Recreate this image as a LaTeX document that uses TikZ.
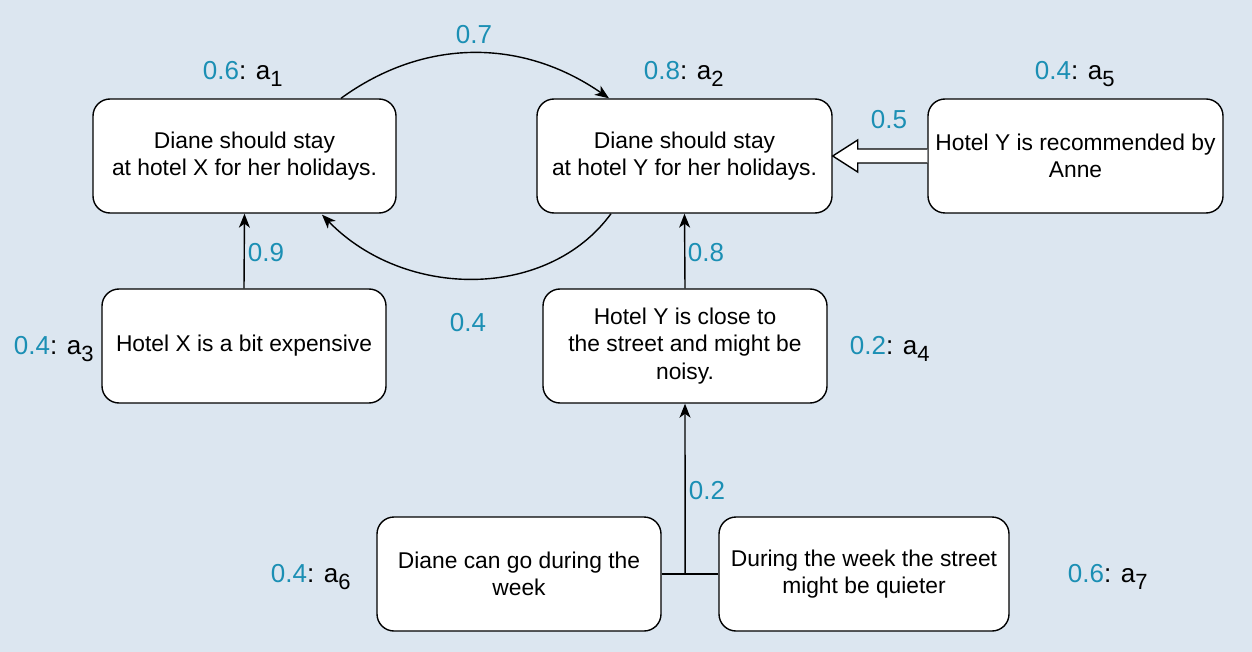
\documentclass[tikz,border=0pt]{standalone}
\usepackage{fontspec}
\setmainfont{Liberation Sans}
\usetikzlibrary{arrows.meta,calc}
\definecolor{bgc}{RGB}{220,230,240}
\definecolor{lblue}{RGB}{27,143,180}
\tikzset{
  box/.style={draw=black, line width=1.4pt, fill=white, rounded corners=17pt,
    minimum height=114pt, align=center, inner sep=0pt,
    font=\fontsize{22.8}{27.5}\selectfont},
  conn/.style={line width=1.4pt, -{Stealth[length=14pt,width=11pt,inset=4pt]}},
  wlab/.style={text=lblue, font=\fontsize{26}{30}\selectfont},
  alab/.style={font=\fontsize{26}{30}\selectfont},
}
\newcommand{\lab}[2]{{\color{lblue}#1}: a\textsubscript{\fontsize{22}{22}\selectfont #2}}
\begin{document}
\begin{tikzpicture}[x=1pt,y=-1pt]
\useasboundingbox[fill=bgc] (0,0) rectangle (1252,652);
% boxes
\node[box, minimum width=303pt] (b1) at (244.5,156) {Diane should stay\\at hotel X for her holidays.};
\node[box, minimum width=295pt] (b2) at (684.5,156) {Diane should stay\\at hotel Y for her holidays.};
\node[box, minimum width=295pt] (b5) at (1075.5,156) {Hotel Y is recommended by\\Anne};
\node[box, minimum width=284pt] (b3) at (244,346) {Hotel X is a bit expensive};
\node[box, minimum width=284pt] (b4) at (685,346) {Hotel Y is close to\\the street and might be\\noisy.};
\node[box, minimum width=284pt] (b6) at (519,574) {Diane can go during the\\week};
\node[box, minimum width=290pt] (b7) at (864,574) {During the week the street\\might be quieter};
% argument labels
\node[alab] (l1) at (243,74) {\lab{0.6}{1}};
\node[alab] (l2) at (684,74) {\lab{0.8}{2}};
\node[alab] (l5) at (1075,74) {\lab{0.4}{5}};
\node[alab] (l3) at (54,349) {\lab{0.4}{3}};
\node[alab] (l4) at (890,349) {\lab{0.2}{4}};
\node[alab] (l6) at (311,577) {\lab{0.4}{6}};
\node[alab] (l7) at (1108,577) {\lab{0.6}{7}};
% straight connectors
\draw[conn] (b3.north) -- (b1.south);
\node[wlab] (w9) at (266,253) {0.9};
\draw[conn] (b4.north) -- (b2.south);
\node[wlab] (w8) at (706,253) {0.8};
% joint support
\coordinate (j) at ($(b6.east)!0.414!(b7.west)$);
\draw[line width=1.4pt] (b6.east) -- (b7.west);
\draw[conn] (j) -- (b4.south);
\node[wlab] (w2) at (707,491) {0.2};
% curved attacks
\coordinate (s1) at ($(b1.north)+(96.5,0)$);
\coordinate (e1) at ($(b2.north)+(-75.5,0)$);
\draw[conn] (s1) .. controls (424,38) and (522,38) .. (e1);
\node[wlab] (w7) at (474,35) {0.7};
\coordinate (s2) at ($(b2.south)+(-73.5,0)$);
\coordinate (e2) at ($(b1.south)+(77.5,1)$);
\draw[conn] (s2) .. controls (548,300) and (405,300) .. (e2);
\node[wlab] (w4) at (468,323) {0.4};
% hollow arrow from b5 to b2
\draw[line width=1.4pt, fill=white, line join=miter]
  (b5.west) ++(0,-7) -- ($(b2.east)+(25,-7)$) -- ($(b2.east)+(25,-16)$)
  -- (b2.east) -- ($(b2.east)+(25,16)$) -- ($(b2.east)+(25,7)$)
  -- ($(b5.west)+(0,7)$);
\node[wlab] (w5) at (889,120) {0.5};
\end{tikzpicture}
\end{document}
